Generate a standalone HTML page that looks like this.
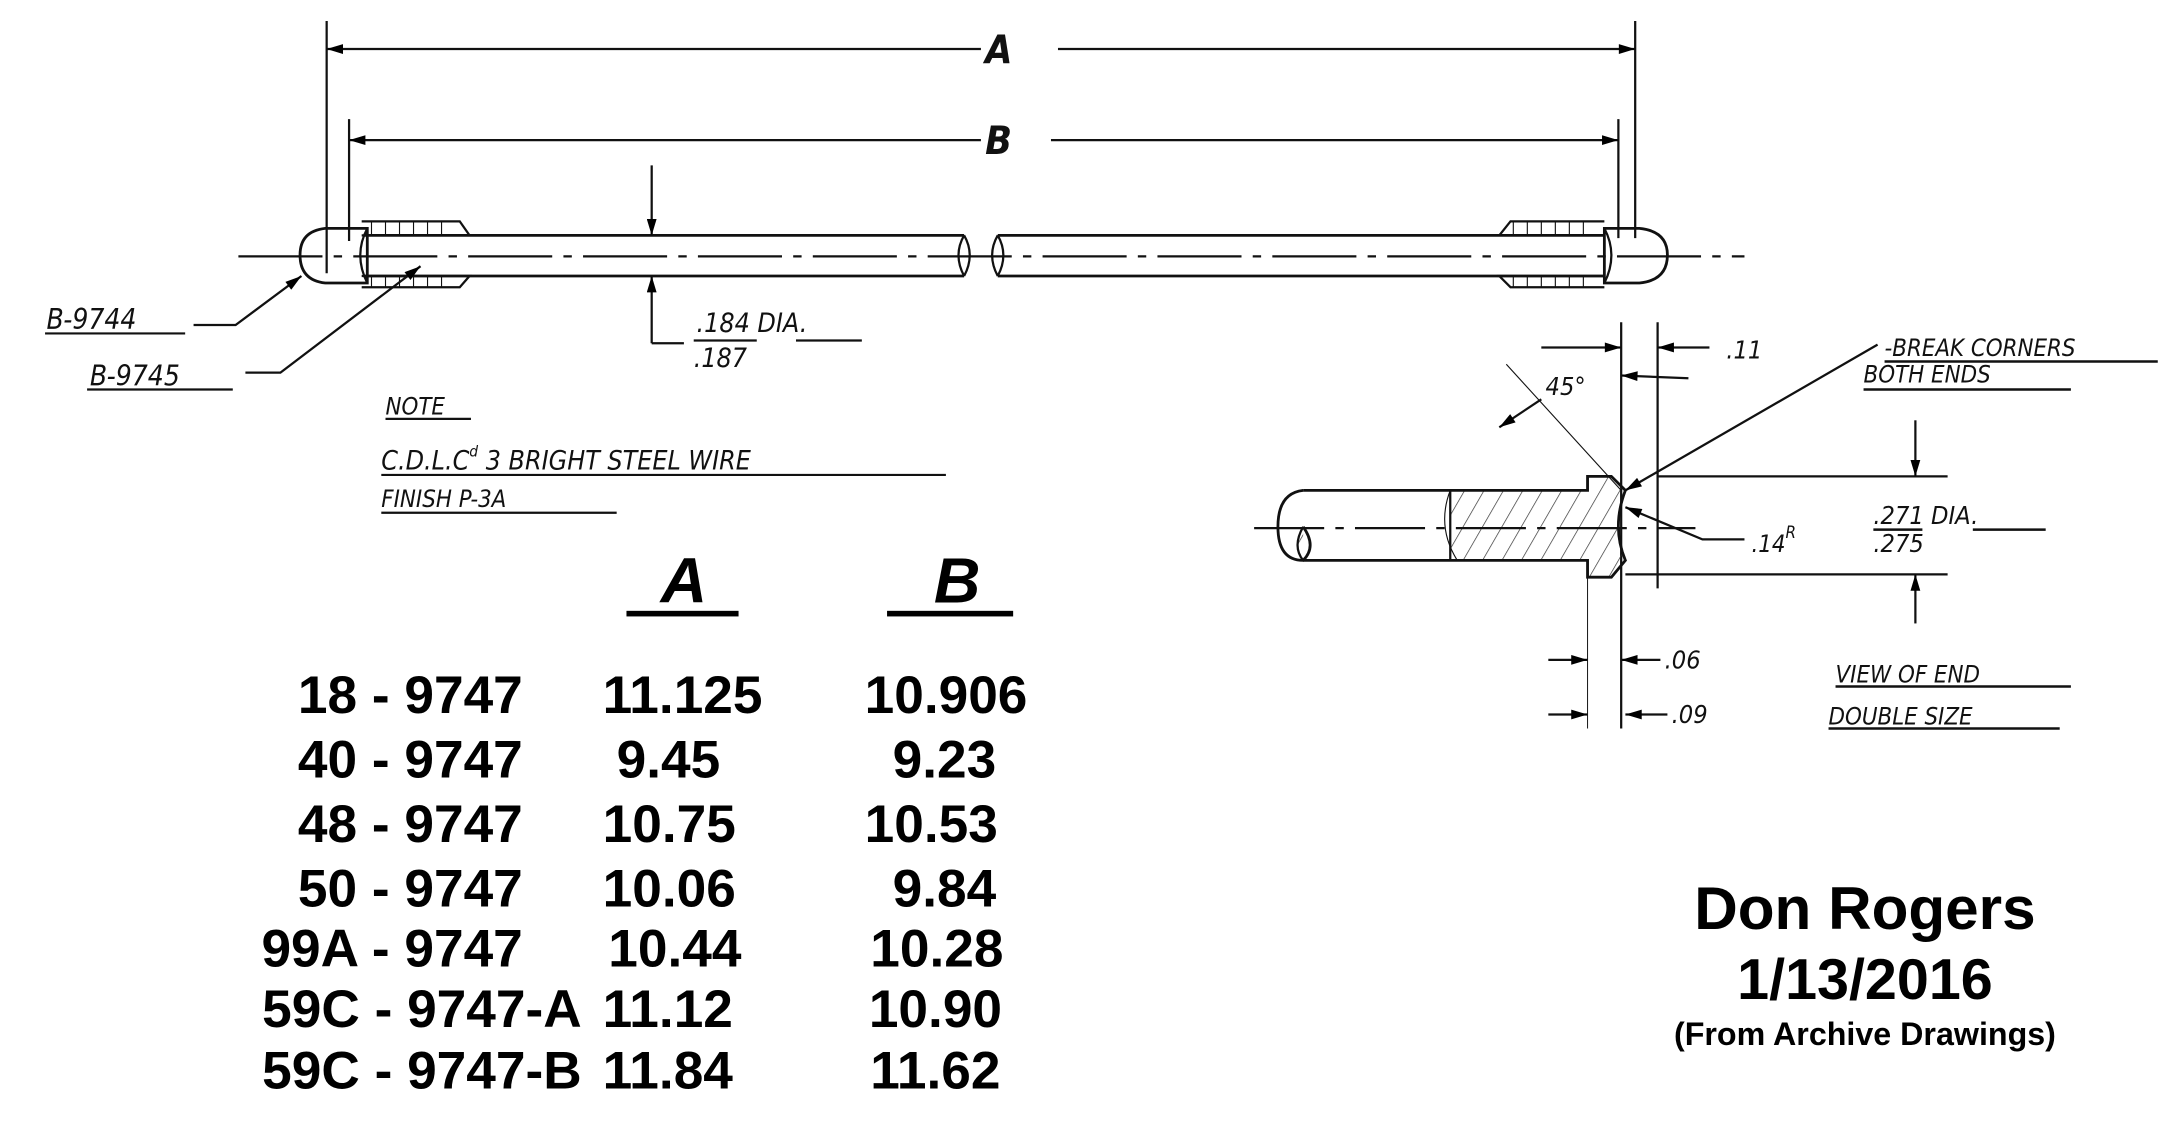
<!DOCTYPE html>
<html><head><meta charset="utf-8"><style>
html,body{margin:0;padding:0;background:#fff;width:2172px;height:1125px;overflow:hidden}
svg{display:block}
.h{font-family:"DejaVu Sans Condensed","Liberation Sans",sans-serif;font-style:italic;fill:#111}
.b{font-family:"Liberation Sans",sans-serif;font-weight:bold;fill:#000}
</style></head><body>
<svg width="2172" height="1125" viewBox="0 0 1550 803" xmlns="http://www.w3.org/2000/svg">
<defs>
<marker id="ar" viewBox="0 0 10 6" refX="10" refY="3" markerWidth="22" markerHeight="7" markerUnits="userSpaceOnUse" orient="auto"><path d="M0,0L10,3L0,6z" fill="#000"/></marker>
<pattern id="hat" width="12" height="12" patternUnits="userSpaceOnUse" patternTransform="rotate(30)"><line x1="0" y1="0" x2="0" y2="12" stroke="#333" stroke-width="1"/></pattern>
</defs>
<g stroke="#111" fill="none" stroke-width="1.6">
<line x1="233" y1="15" x2="233" y2="195"/><line x1="249" y1="85" x2="249" y2="172"/>
<line x1="1167" y1="15" x2="1167" y2="170"/><line x1="1155" y1="85" x2="1155" y2="170"/>
<line x1="700" y1="35" x2="233" y2="35" marker-end="url(#ar)"/><line x1="755" y1="35" x2="1167" y2="35" marker-end="url(#ar)"/>
<line x1="700" y1="100" x2="249" y2="100" marker-end="url(#ar)"/><line x1="750" y1="100" x2="1155" y2="100" marker-end="url(#ar)"/>
<line x1="170" y1="183" x2="1245" y2="183" stroke-dasharray="60,8,6,8"/>
<path d="M260,168H688 M260,197H688 M712,168H1145 M712,197H1145" stroke-width="2"/>
<path d="M688,168Q680,182 688,197 M688,168Q696,182 688,197 M712,168Q704,182 712,197 M712,168Q720,182 712,197"/>
<path d="M262,163H232Q214,165 214,182Q214,200 232,202H262Z" stroke-width="2"/>
<path d="M262,163Q252,182 262,202" />
<path d="M258,158H328L335,168H258 M258,197H335L328,205H258" />
<path d="M265,158v10M275,158v10M285,158v10M295,158v10M305,158v10M315,158v10M265,197v8M275,197v8M285,197v8M295,197v8M305,197v8M315,197v8" stroke-width="0.8"/>
<path d="M1145,163H1170Q1190,165 1190,182Q1190,200 1170,202H1145Z" stroke-width="2"/>
<path d="M1145,163Q1155,182 1145,202"/>
<path d="M1145,158H1078L1070,168H1145 M1145,197H1070L1078,205H1145"/>
<path d="M1080,158v10M1090,158v10M1100,158v10M1110,158v10M1120,158v10M1130,158v10M1080,197v8M1090,197v8M1100,197v8M1110,197v8M1120,197v8M1130,197v8" stroke-width="0.8"/>
<line x1="465" y1="118" x2="465" y2="168" marker-end="url(#ar)"/>
<line x1="465" y1="245" x2="465" y2="197" marker-end="url(#ar)"/>
<path d="M465,245H488"/>
<path d="M495,243H540 M568,243H615"/>
<path d="M138,232H168L215,197" marker-end="url(#ar)"/>
<path d="M175,266H200L300,190" marker-end="url(#ar)"/>
<path d="M32,238H132 M62,278H166 M275,299H336 M272,339H675 M272,366H440"/>
<line x1="1157" y1="230" x2="1157" y2="520"/><line x1="1183" y1="230" x2="1183" y2="420"/>
<line x1="1133" y1="412" x2="1133" y2="520" stroke-width="0.7"/>
<path d="M1035,350H1133V340H1150L1160,350Q1150,376 1160,400L1150,412H1133V400H1035Z" fill="url(#hat)"/>
<path d="M1035,350Q1025,376 1040,400" stroke-width="0.8"/>
<path d="M930,350H1133V340H1150L1160,350Q1150,376 1160,400L1150,412H1133V400H930" stroke-width="2"/>
<path d="M930,350Q912,352 912,376Q912,400 930,400Q940,390 930,376" stroke-width="2"/>
<path d="M930,376Q922,390 930,400" fill="url(#hat)"/>
<line x1="895" y1="377" x2="1210" y2="377" stroke-dasharray="50,8,6,8"/>
<path d="M1183,340H1390 M1160,410H1390"/>
<line x1="1367" y1="300" x2="1367" y2="340" marker-end="url(#ar)"/>
<line x1="1367" y1="445" x2="1367" y2="410" marker-end="url(#ar)"/>
<line x1="1100" y1="248" x2="1157" y2="248" marker-end="url(#ar)"/>
<line x1="1220" y1="248" x2="1183" y2="248" marker-end="url(#ar)"/>
<line x1="1205" y1="270" x2="1157" y2="268" marker-end="url(#ar)"/>
<line x1="1075" y1="260" x2="1157" y2="350" stroke-width="0.8"/>
<line x1="1100" y1="285" x2="1070" y2="305" marker-end="url(#ar)"/>
<line x1="1340" y1="246" x2="1160" y2="350" marker-end="url(#ar)"/>
<path d="M1245,385H1215L1160,362" marker-end="url(#ar)"/>
<line x1="1105" y1="471" x2="1133" y2="471" marker-end="url(#ar)"/>
<line x1="1185" y1="471" x2="1157" y2="471" marker-end="url(#ar)"/>
<line x1="1105" y1="510" x2="1133" y2="510" marker-end="url(#ar)"/>
<line x1="1190" y1="510" x2="1160" y2="510" marker-end="url(#ar)"/>
<path d="M1345,258H1540 M1330,278H1478 M1337,378H1372 M1408,378H1460 M1310,490H1478 M1305,520H1470" stroke-width="1.8"/>
</g>
<g class="h">
<text x="703" y="45" font-size="28" font-weight="bold">A</text>
<text x="703" y="110" font-size="28" font-weight="bold">B</text>
<text x="497" y="237" font-size="19">.184  DIA.</text>
<text x="495" y="262" font-size="19">.187</text>
<text x="33" y="235" font-size="20">B-9744</text>
<text x="64" y="275" font-size="20">B-9745</text>
<text x="275" y="296" font-size="17">NOTE</text>
<text x="272" y="335" font-size="19">C.D.L.C<tspan font-size="11" dy="-9">d</tspan><tspan dy="9"> 3 BRIGHT STEEL WIRE</tspan></text>
<text x="272" y="362" font-size="17">FINISH P-3A</text>
<text x="1232" y="256" font-size="18">.11</text>
<text x="1103" y="282" font-size="18">45°</text>
<text x="1345" y="254" font-size="17">-BREAK CORNERS</text>
<text x="1330" y="273" font-size="17">BOTH ENDS</text>
<text x="1250" y="394" font-size="17">.14<tspan font-size="12" dy="-10">R</tspan></text>
<text x="1337" y="374" font-size="18">.271  DIA.</text>
<text x="1337" y="394" font-size="18">.275</text>
<text x="1188" y="477" font-size="18">.06</text>
<text x="1193" y="516" font-size="18">.09</text>
<text x="1310" y="487" font-size="17">VIEW OF END</text>
<text x="1305" y="517" font-size="17">DOUBLE SIZE</text>
</g>
<g class="b">
<text x="488" y="430" font-size="46" font-style="italic" text-anchor="middle">A</text>
<text x="683" y="430" font-size="46" font-style="italic" text-anchor="middle">B</text>
<rect x="447" y="436" width="80" height="4" fill="#000"/>
<rect x="633" y="436" width="90" height="4" fill="#000"/>
<g font-size="38">
<text x="373" y="509" text-anchor="end">18 - 9747</text>
<text x="373" y="555" text-anchor="end">40 - 9747</text>
<text x="373" y="601" text-anchor="end">48 - 9747</text>
<text x="373" y="647" text-anchor="end">50 - 9747</text>
<text x="373" y="690" text-anchor="end">99A - 9747</text>
<text x="415" y="733" text-anchor="end">59C - 9747-A</text>
<text x="415" y="777" text-anchor="end">59C - 9747-B</text>
<text x="430" y="509">11.125</text>
<text x="440" y="555">9.45</text>
<text x="430" y="601">10.75</text>
<text x="430" y="647">10.06</text>
<text x="434" y="690">10.44</text>
<text x="430" y="733">11.12</text>
<text x="430" y="777">11.84</text>
<text x="617" y="509">10.906</text>
<text x="637" y="555">9.23</text>
<text x="617" y="601">10.53</text>
<text x="637" y="647">9.84</text>
<text x="621" y="690">10.28</text>
<text x="620" y="733">10.90</text>
<text x="621" y="777">11.62</text>
</g>
<text x="1331" y="663" font-size="43" text-anchor="middle">Don Rogers</text>
<text x="1331" y="713" font-size="41" text-anchor="middle">1/13/2016</text>
<text x="1331" y="746" font-size="23" text-anchor="middle">(From Archive Drawings)</text>
</g>
</svg>
</body></html>
